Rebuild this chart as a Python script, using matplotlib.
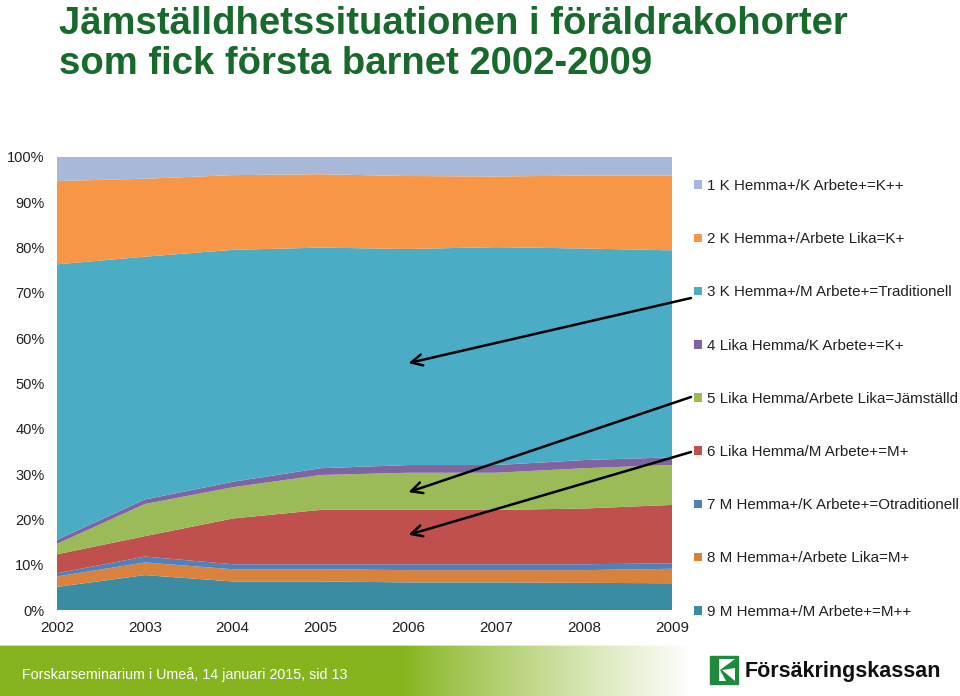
import matplotlib
matplotlib.use("Agg")
import matplotlib.pyplot as plt
import numpy as np
from matplotlib.patches import Rectangle, Polygon

plt.rcParams['font.family'] = ['Liberation Sans', 'DejaVu Sans']

years = [2002, 2003, 2004, 2005, 2006, 2007, 2008, 2009]
labels = [
    "1 K Hemma+/K Arbete+=K++",
    "2 K Hemma+/Arbete Lika=K+",
    "3 K Hemma+/M Arbete+=Traditionell",
    "4 Lika Hemma/K Arbete+=K+",
    "5 Lika Hemma/Arbete Lika=Jämställd",
    "6 Lika Hemma/M Arbete+=M+",
    "7 M Hemma+/K Arbete+=Otraditionell",
    "8 M Hemma+/Arbete Lika=M+",
    "9 M Hemma+/M Arbete+=M++",
]
s1 = [5.3, 4.8, 4.0, 3.8, 4.2, 4.3, 4.1, 4.1]
s2 = [18.4, 17.2, 16.5, 16.2, 16.1, 15.6, 16.1, 16.5]
s3 = [60.8, 53.6, 51.2, 48.7, 47.7, 48.1, 46.7, 45.7]
s4 = [0.9, 1.0, 1.2, 1.5, 1.7, 1.7, 1.8, 1.7]
s5 = [2.3, 7.1, 6.9, 7.7, 8.2, 8.2, 8.9, 8.8]
s6 = [4.2, 4.5, 10.1, 12.0, 12.0, 12.0, 12.3, 12.9]
s7 = [0.7, 1.3, 1.1, 1.1, 1.3, 1.3, 1.3, 1.2]
s8 = [2.3, 2.8, 2.7, 2.7, 2.7, 2.7, 2.8, 3.2]
s9 = [5.1, 7.7, 6.3, 6.3, 6.1, 6.1, 6.0, 5.9]
series = [s1, s2, s3, s4, s5, s6, s7, s8, s9]
colors = ["#A8B8D8", "#F79646", "#4BACC6", "#8064A2", "#9BBB59",
          "#C0504D", "#4F81BD", "#D9823E", "#3B8CA3"]
yticks = [0, 10, 20, 30, 40, 50, 60, 70, 80, 90, 100]
ytick_labels = [f"{v}%" for v in yticks]

W, H = 960, 696
fig = plt.figure(figsize=(9.6, 6.96), dpi=100)
fig.patch.set_facecolor("white")

def fx(px):
    return px / W

def fy(py):
    return 1 - py / H

# main axes
ax = fig.add_axes([fx(57), fy(610), fx(672) - fx(57), fy(157) - fy(610)])
polys = ax.stackplot(years, series[::-1], colors=colors[::-1], linewidth=0)
ax.set_xlim(years[0], years[-1])
ax.set_ylim(0, 100)
ax.set_xticks(years)
ax.set_xticklabels([str(y) for y in years], fontsize=11)
ax.set_yticks(yticks)
ax.set_yticklabels(ytick_labels, fontsize=10.5)
ax.tick_params(axis='both', length=0, colors="#222222")
ax.tick_params(axis='y', pad=9)
ax.tick_params(axis='x', pad=8)
for sp in ax.spines.values():
    sp.set_visible(False)

# legend
handles = polys[::-1]
leg = fig.legend(handles, labels, loc="upper left",
                 bbox_to_anchor=(fx(694), fy(179)), bbox_transform=fig.transFigure,
                 frameon=False, fontsize=10.9, handlelength=0.5, handleheight=0.5,
                 handletextpad=0.33, labelspacing=2.59, borderpad=0, borderaxespad=0)
for t in leg.get_texts():
    t.set_color("#222222")

# arrows (tails at legend, heads into chart)
arrow_specs = [
    ((2006.0, 54.5), (691, 298)),
    ((2006.0, 26.0), (691, 397)),
    ((2006.0, 16.6), (691, 452)),
]
for head, tail in arrow_specs:
    ax.annotate("", xy=head, xycoords="data",
                xytext=(fx(tail[0]), fy(tail[1])), textcoords="figure fraction",
                arrowprops=dict(arrowstyle="->", lw=1.8, color="black",
                                mutation_scale=20, shrinkA=0, shrinkB=0),
                annotation_clip=False)

# title
title_color = "#176A2C"
fig.text(fx(59), fy(33.5), "Jämställdhetssituationen i föräldrakohorter",
         fontsize=27.5, fontweight="bold", color=title_color, va="baseline", ha="left")
fig.text(fx(59), fy(73.5), "som fick första barnet 2002-2009",
         fontsize=27.5, fontweight="bold", color=title_color, va="baseline", ha="left")

# footer gradient bar
bar_ax = fig.add_axes([0, 0, 1, fy(645)])
bar_ax.set_axis_off()
green = np.array([0x86, 0xB4, 0x1E]) / 255.0
xs = np.linspace(0, 1, 960)
t = np.clip((xs - 0.42) / (0.30), 0, 1)
t = t ** 0.9
row = green[None, :] * (1 - t[:, None]) + np.ones(3)[None, :] * t[:, None]
img = np.repeat(row[None, :, :], 51, axis=0)
img[0:2] = img[0:2] * 0.4 + 0.6
bar_ax.imshow(img, aspect="auto", extent=[0, 1, 0, 1])
bar_ax.set_xlim(0, 1)
bar_ax.set_ylim(0, 1)

fig.text(fx(22), fy(675), "Forskarseminarium i Umeå, 14 januari 2015, sid 13",
         fontsize=10.3, color="white", va="center", ha="left")

# logo
logo_green = "#1E8A3C"
x0, y0, s = 710, 656, 28
fig.patches.append(Rectangle((fx(x0), fy(y0 + s)), fx(s), s / H,
                             transform=fig.transFigure, facecolor=logo_green,
                             edgecolor=logo_green, zorder=5))
fig.patches.append(Rectangle((fx(x0 + 3), fy(y0 + s - 3)), fx(s - 6), (s - 6) / H,
                             transform=fig.transFigure, facecolor="white",
                             edgecolor="none", zorder=6))
pts_bar = [(x0 + 3, y0 + 3), (x0 + 9, y0 + 3), (x0 + 9, y0 + s - 3), (x0 + 3, y0 + s - 3)]
pts_tri = [(x0 + s - 3, y0 + 3), (x0 + s - 3, y0 + 12), (x0 + 12, y0 + 14), (x0 + s - 3, y0 + s - 3),
           (x0 + 16, y0 + s - 3), (x0 + 10, y0 + 14)]
for pts in (pts_bar, pts_tri):
    fig.patches.append(Polygon([(fx(a), fy(b)) for a, b in pts], closed=True,
                               transform=fig.transFigure, facecolor=logo_green,
                               edgecolor="none", zorder=7))
fig.text(fx(745), fy(671), "Försäkringskassan", fontsize=15.5, fontweight="bold",
         color="#111111", va="center", ha="left")

fig.savefig("out.png", dpi=100, facecolor="white")
